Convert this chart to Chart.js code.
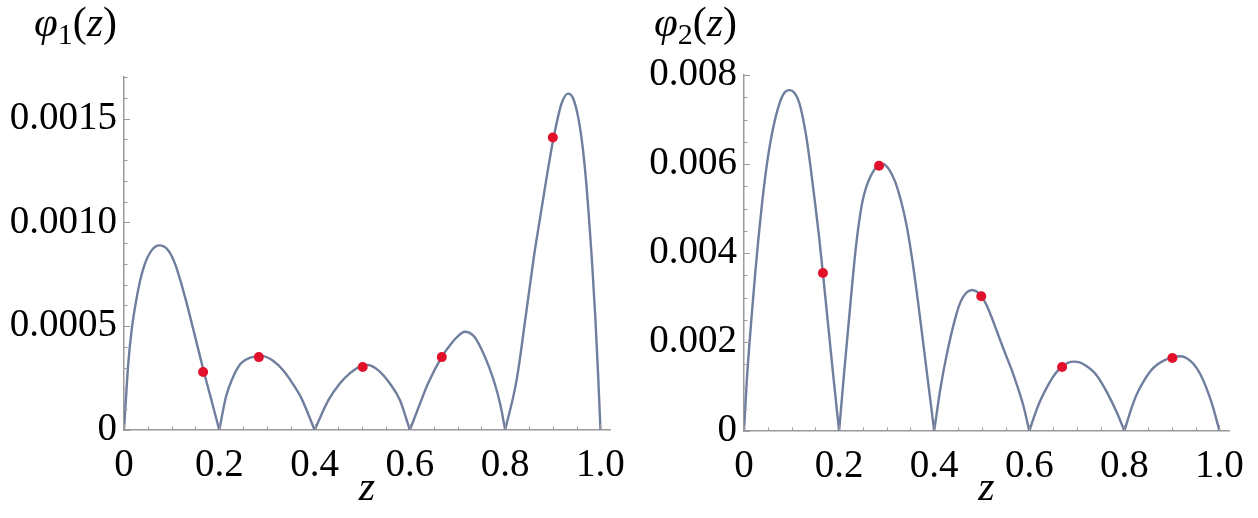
<!DOCTYPE html>
<html><head><meta charset="utf-8">
<script src="https://cdn.jsdelivr.net/npm/chart.js@4.4.1/dist/chart.umd.min.js"></script>
<style>
html,body{margin:0;padding:0;background:#fff;width:1258px;height:518px;overflow:hidden;position:relative}
#c1{position:absolute;left:0;top:0}
#c2{position:absolute;left:620px;top:0}
</style></head><body>
<canvas id="c1" width="640" height="518"></canvas>
<canvas id="c2" width="638" height="518"></canvas>
<script>
// ---- data ----
const xTicks = [0, 0.2, 0.4, 0.6, 0.8, 1.0];
const xTickLabels = ['0', '0.2', '0.4', '0.6', '0.8', '1.0'];
const y1Ticks = [0, 0.0005, 0.0010, 0.0015];
const y1TickLabels = ['0', '0.0005', '0.0010', '0.0015'];
const y2Ticks = [0, 0.002, 0.004, 0.006, 0.008];
const y2TickLabels = ['0', '0.002', '0.004', '0.006', '0.008'];

// phi1(z): five arcs separated by null breaks
const phi1X = [0,0.009,0.016,0.027,0.034,0.044,0.058,0.074,0.093,0.107,0.128,0.147,0.166,0.183,0.2, 0.2,
  0.2,0.214,0.226,0.245,0.265,0.29,0.312,0.334,0.355,0.373,0.4, 0.4,
  0.4,0.429,0.453,0.475,0.495,0.512,0.535,0.558,0.579,0.6, 0.6,
  0.6,0.624,0.638,0.666,0.687,0.701,0.715,0.735,0.75,0.765,0.778,0.79,0.8, 0.8,
  0.8,0.824,0.845,0.86,0.876,0.888,0.901,0.918,0.932,0.942,0.952,0.96,0.967,0.975,0.982,0.989,0.995,1.0];
const phi1Y = [0,0.000321,0.000481,0.000641,0.000721,0.000801,0.000865,0.000889,0.000865,0.000801,0.000641,0.00047,0.000295,0.000148,0, null,
  0,0.00016,0.00024,0.00032,0.000348,0.000356,0.000335,0.000288,0.00022,0.00015,0, null,
  0,0.000144,0.000224,0.000275,0.000305,0.000313,0.000285,0.000224,0.000144,0, null,
  0,0.000144,0.000224,0.000349,0.000417,0.000452,0.000473,0.00045,0.00039,0.00031,0.000224,0.00012,0, null,
  0,0.00024,0.00058,0.00083,0.00106,0.00123,0.0014,0.00157,0.00162,0.0016,0.00152,0.00141,0.00127,0.00105,0.00082,0.00055,0.00027,0];
const dots1X = [0.166, 0.283, 0.501, 0.667, 0.900];
const dots1Y = [0.000279, 0.000351, 0.000303, 0.000351, 0.001409];

// phi2(z)
const phi2X = [0,0.0057,0.0162,0.0232,0.0301,0.0373,0.0463,0.0583,0.0743,0.085,0.0954,0.106,0.1164,0.1305,0.1404,0.1495,0.1579,0.1657,0.1731,0.1872,0.2, 0.2,
  0.2,0.2105,0.2232,0.235,0.248,0.257,0.266,0.276,0.285,0.292,0.305,0.318,0.33,0.342,0.354,0.366,0.383,0.4, 0.4,
  0.4,0.413,0.427,0.444,0.455,0.467,0.4793,0.49,0.499,0.51,0.522,0.535,0.548,0.562,0.575,0.588,0.6, 0.6,
  0.6,0.612,0.623,0.641,0.655,0.669,0.681,0.693,0.706,0.72,0.732,0.743,0.757,0.771,0.786,0.8, 0.8,
  0.8,0.812,0.825,0.84,0.855,0.87,0.886,0.902,0.918,0.932,0.946,0.96,0.972,0.986,1.0];
const phi2Y = [0,0.0011,0.0026,0.0035,0.0043,0.00505,0.00585,0.00665,0.00735,0.0076,0.00766,0.0076,0.00737,0.00665,0.0059,0.00512,0.00436,0.00357,0.00279,0.0013,0, null,
  0,0.0013,0.00279,0.0041,0.0051,0.00548,0.00572,0.0059,0.00598,0.006,0.00588,0.0056,0.00518,0.00462,0.00384,0.0029,0.00145,0, null,
  0,0.00095,0.00175,0.00252,0.00289,0.0031,0.00317,0.00313,0.00303,0.00283,0.00252,0.00215,0.00178,0.0014,0.001,0.00055,0, null,
  0,0.00038,0.00068,0.00106,0.00129,0.00145,0.00153,0.00156,0.00154,0.00146,0.00136,0.00123,0.00099,0.00071,0.00037,0, null,
  0,0.00042,0.0008,0.00111,0.00135,0.0015,0.0016,0.00166,0.00168,0.00163,0.0015,0.00127,0.00098,0.00055,0];
const dots2X = [0.166, 0.284, 0.499, 0.669, 0.901];
const dots2Y = [0.00355, 0.00596, 0.00303, 0.00144, 0.00164];

// ---- styling ----
const FONT = '"Liberation Serif", "Times New Roman", serif';
const AXIS = '#9a9a9a';
const LINE = '#6f7e9e';
const DOT = '#e3102b';

function pts(xs, ys) { return xs.map((x, i) => ({x: x, y: ys[i]})); }

function decor(cfg) {
  return {
    id: 'decor',
    afterDraw(chart) {
      const ctx = chart.ctx, xs = chart.scales.x, ys = chart.scales.y, a = chart.chartArea;
      ctx.save();
      ctx.strokeStyle = AXIS; ctx.lineWidth = 1;
      for (let i = 0; i <= cfg.xN; i++) {
        const px = Math.round(xs.getPixelForValue(i * cfg.xStep)) + 0.5;
        const len = (i % cfg.xMajorEvery === 0) ? 6 : 3.5;
        ctx.beginPath(); ctx.moveTo(px, a.bottom); ctx.lineTo(px, a.bottom - len); ctx.stroke();
      }
      for (let i = 0; i <= cfg.yN; i++) {
        const py = Math.round(ys.getPixelForValue(i * cfg.yStep)) + 0.5;
        const len = (i % cfg.yMajorEvery === 0) ? 6 : 3.5;
        ctx.beginPath(); ctx.moveTo(a.left, py); ctx.lineTo(a.left + len, py); ctx.stroke();
      }
      // function label  φn(z)
      const parts = [
        ['\u03C6', 'italic 43px ' + FONT, 0],
        [cfg.sub, '30px ' + FONT, 8],
        ['(', '42px ' + FONT, 0],
        ['z', 'italic 42px ' + FONT, 0],
        [')', '42px ' + FONT, 0]
      ];
      let total = 0;
      parts.forEach(p => { ctx.font = p[1]; p.w = ctx.measureText(p[0]).width; total += p.w; });
      let x = cfg.labelRight - total;
      ctx.fillStyle = '#000'; ctx.textBaseline = 'alphabetic'; ctx.textAlign = 'left';
      parts.forEach(p => { ctx.font = p[1]; ctx.fillText(p[0], x, cfg.labelBase + p[2]); x += p.w; });
      ctx.restore();
    }
  };
}

function makeChart(id, lx, ly, dx, dy, yMax, yTicks, yLabels, pad, axisH, deco) {
  return new Chart(document.getElementById(id), {
    type: 'scatter',
    data: {
      datasets: [
        {data: pts(dx, dy), backgroundColor: DOT, borderWidth: 0, pointRadius: 5, pointHoverRadius: 5, showLine: false},
        {data: pts(lx, ly), borderColor: LINE, borderWidth: 2.4, pointRadius: 0, showLine: true, spanGaps: false,
         cubicInterpolationMode: 'monotone', fill: false}
      ]
    },
    options: {
      responsive: false, animation: false, devicePixelRatio: 1,
      layout: {padding: pad},
      plugins: {legend: {display: false}, tooltip: {enabled: false}},
      scales: {
        x: {
          type: 'linear', min: 0, max: 1.02,
          afterBuildTicks: s => { s.ticks = xTicks.map(v => ({value: v})); },
          afterFit: s => { s.height = axisH; },
          ticks: {callback: (v, i) => xTickLabels[i], color: '#000', font: {family: FONT, size: 39}, padding: 12, maxRotation: 0, autoSkip: false},
          grid: {display: false, drawTicks: false},
          border: {display: true, color: AXIS, width: 1.5},
          title: {display: true, text: 'z', color: '#000', font: {family: FONT, size: 42, style: 'italic'}, padding: {top: 0, bottom: 4}}
        },
        y: {
          type: 'linear', min: 0, max: yMax,
          afterBuildTicks: s => { s.ticks = yTicks.map(v => ({value: v})); },
          afterFit: s => { s.width = 124; },
          ticks: {callback: (v, i) => yLabels[i], color: '#000', font: {family: FONT, size: 39}, padding: 7},
          grid: {display: false, drawTicks: false},
          border: {display: true, color: AXIS, width: 1.5}
        }
      }
    },
    plugins: [decor(deco)]
  });
}

makeChart('c1', phi1X, phi1Y, dots1X, dots1Y, 0.0017, y1Ticks, y1TickLabels,
  {left: 0, right: 30, top: 77, bottom: 0}, 88,
  {xN: 20, xStep: 0.05, xMajorEvery: 4, yN: 17, yStep: 0.0001, yMajorEvery: 5, sub: '1', labelRight: 117, labelBase: 36});
makeChart('c2', phi2X, phi2Y, dots2X, dots2Y, 0.008, y2Ticks, y2TickLabels,
  {left: 0, right: 29, top: 75, bottom: 0}, 87,
  {xN: 20, xStep: 0.05, xMajorEvery: 4, yN: 16, yStep: 0.0005, yMajorEvery: 4, sub: '2', labelRight: 117, labelBase: 36});
</script>
</body></html>
